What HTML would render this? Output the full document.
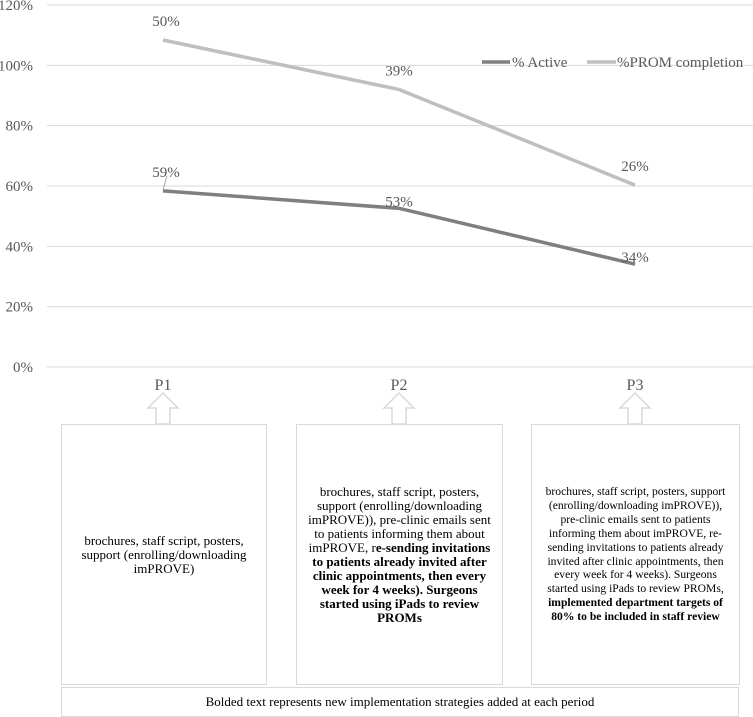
<!DOCTYPE html>
<html><head><meta charset="utf-8"><style>
body{margin:0;background:#fff;width:753px;height:717px;overflow:hidden;position:relative;font-family:"Liberation Serif",serif}
svg{position:absolute;left:0;top:0}
.box{position:absolute;border:1.5px solid #d9d9d9;box-sizing:border-box;display:flex;align-items:center;justify-content:center;text-align:center;color:#000;line-height:14px}
</style></head><body>
<svg width="753" height="430">
<g id="grid"></g><g id="lines"></g><g id="labels"></g><g id="arrows"></g>
<g>
<line x1="482" y1="62" x2="510" y2="62" stroke="#7f7f7f" stroke-width="3.5"/>
<text x="512" y="67" font-size="15" fill="#595959">% Active</text>
<line x1="587" y1="62" x2="616" y2="62" stroke="#bfbfbf" stroke-width="3.5"/>
<text x="617" y="67" font-size="15" fill="#595959">%PROM completion</text>
</g>
</svg>
<div class="box" style="left:61px;top:424px;width:206px;height:261px;font-size:13px">brochures, staff script, posters,<br>support (enrolling/downloading<br>imPROVE)</div>
<div class="box" style="left:296px;top:424px;width:207px;height:261px;font-size:13px"><div>brochures, staff script, posters,<br>support (enrolling/downloading<br>imPROVE)), pre-clinic emails sent<br>to patients informing them about<br>imPROVE, r<b>e-sending invitations<br>to patients already invited after<br>clinic appointments, then every<br>week for 4 weeks). Surgeons<br>started using iPads to review<br>PROMs</b></div></div>
<div class="box" style="left:531px;top:424px;width:209px;height:261px;font-size:11.6px;line-height:13.9px"><div>brochures, staff script, posters, support<br>(enrolling/downloading imPROVE)),<br>pre-clinic emails sent to patients<br>informing them about imPROVE, re-<br>sending invitations to patients already<br>invited after clinic appointments, then<br>every week for 4 weeks). Surgeons<br>started using iPads to review PROMs,<br><b>implemented department targets of<br>80% to be included in staff review</b></div></div>
<div class="box" style="left:61px;top:687px;width:678px;height:30px;font-size:13px">Bolded text represents new implementation strategies added at each period</div>
<script>
const categories=["P1","P2","P3"];
const activeValues=[58.4,52.6,34.1];
const promValues=[108.4,92.0,60.3];
const activeLabels=["59%","53%","34%"];
const promLabels=["50%","39%","26%"];
const yTicks=[0,20,40,60,80,100,120];
const NS="http://www.w3.org/2000/svg";
const X=i=>163+i*236;
const Y=v=>367-v*362/120;
function mk(tag,attrs,parent){const e=document.createElementNS(NS,tag);for(const k in attrs)e.setAttribute(k,attrs[k]);document.getElementById(parent).appendChild(e);return e;}
yTicks.forEach(t=>{
 const l=mk("line",{x1:47,x2:753,y1:Y(t),y2:Y(t),stroke:"#d9d9d9","stroke-width":1},"grid");
 
 
 const tx=mk("text",{x:33,y:Y(t)+5,"text-anchor":"end","font-size":15,fill:"#595959"},"grid");
 tx.textContent=t+"%";
 
 
});
function series(vals,color,name){
 const p=mk("polyline",{points:vals.map((v,i)=>X(i)+","+Y(v)).join(" "),fill:"none",stroke:color,"stroke-width":3.5,"stroke-linejoin":"round"},"lines");
 
 
}
series(promValues,"#bfbfbf","prom-completion-line");
series(activeValues,"#7f7f7f","active-line");
function labels(vals,labs,name){
 vals.forEach((v,i)=>{
  const t=mk("text",{x:X(i)+(i==0?3:0),y:Y(v)-14+(name=="active-label"&&i>0?12:0),"text-anchor":"middle","font-size":15,fill:"#595959"},"labels");
  t.textContent=labs[i];
  
  
 });
}
labels(promValues,promLabels,"prom-label");
labels(activeValues,activeLabels,"active-label");
mk("line",{x1:X(0)+4,y1:Y(activeValues[0])-15,x2:X(0),y2:Y(activeValues[0])-1,stroke:"#a6a6a6","stroke-width":1},"labels");
categories.forEach((c,i)=>{
 const x=X(i);
 const t=mk("text",{x:x,y:390,"text-anchor":"middle","font-size":16,fill:"#595959"},"arrows");
 t.textContent=c;
 
 
 const a=mk("polygon",{points:`${x},393 ${x+15},408 ${x+7},408 ${x+7},424 ${x-7},424 ${x-7},408 ${x-15},408`,fill:"#fff",stroke:"#d9d9d9","stroke-width":1.5},"arrows");
 
 
});
</script>
</body></html>
